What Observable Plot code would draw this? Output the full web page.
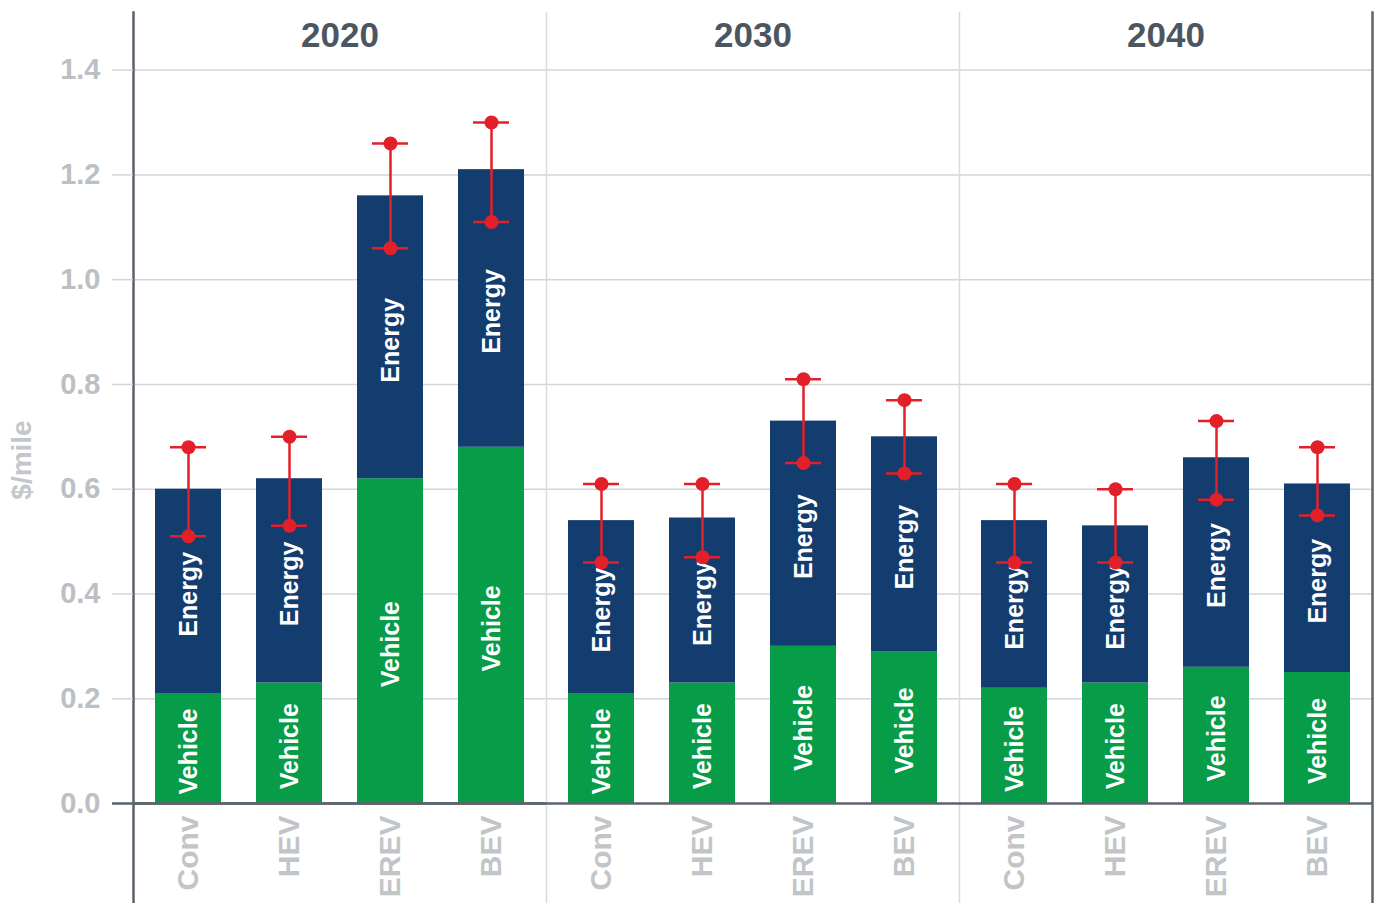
<!DOCTYPE html>
<html>
<head>
<meta charset="utf-8">
<script src="https://cdn.jsdelivr.net/npm/d3@7"></script>
<script src="https://cdn.jsdelivr.net/npm/@observablehq/plot@0.6"></script>
<style>
  html, body { margin: 0; padding: 0; background: #fff; }
  #chart { width: 1377px; height: 903px; }
</style>
</head>
<body>
<div id="chart"></div>
<script>
const types = ["Conv", "HEV", "EREV", "BEV"];
const years = ["2020", "2030", "2040"];
const parts = ["Vehicle", "Energy"];
// $/mile, per year, in order of types
const vehicleCost = [
  [0.21, 0.23, 0.62, 0.68],
  [0.21, 0.23, 0.30, 0.29],
  [0.22, 0.23, 0.26, 0.25]
];
const energyCost = [
  [0.39, 0.39, 0.54, 0.53],
  [0.33, 0.315, 0.43, 0.41],
  [0.32, 0.30, 0.40, 0.36]
];
const rangeLow = [
  [0.51, 0.53, 1.06, 1.11],
  [0.46, 0.47, 0.65, 0.63],
  [0.46, 0.46, 0.58, 0.55]
];
const rangeHigh = [
  [0.68, 0.70, 1.26, 1.30],
  [0.61, 0.61, 0.81, 0.77],
  [0.61, 0.60, 0.73, 0.68]
];
const yTicks = [0, 0.2, 0.4, 0.6, 0.8, 1.0, 1.2, 1.4];

const rows = [];
years.forEach((yr, i) => types.forEach((t, j) => rows.push({year: yr, type: t, part: "Vehicle", value: vehicleCost[i][j]})));
years.forEach((yr, i) => types.forEach((t, j) => rows.push({year: yr, type: t, part: "Energy", value: energyCost[i][j]})));
const ranges = [];
years.forEach((yr, i) => types.forEach((t, j) => ranges.push({year: yr, type: t, lo: rangeLow[i][j], hi: rangeHigh[i][j]})));

const RED = "#e3202a";
const DARK = "#5b636b";
const GRID = "#d3d5d8";

const chart = Plot.plot({
  width: 1377,
  height: 903,
  marginLeft: 133,
  marginRight: 5,
  marginTop: 12,
  marginBottom: 100,
  style: {fontFamily: "'Liberation Sans', Arial, Helvetica, sans-serif", background: "#fff", overflow: "visible"},
  fx: {domain: years, padding: 0, axis: null},
  x: {domain: types, paddingInner: 0.35, paddingOuter: 0.21},
  y: {domain: [0, 1.51]},
  color: {domain: parts, range: ["#079c48", "#133c6f"]},
  marks: [
    Plot.gridY({ticks: yTicks.slice(1), stroke: GRID, strokeOpacity: 1, strokeWidth: 1.5}),
    Plot.frame({anchor: "left", stroke: "#d8dadc", strokeWidth: 1.5, insetBottom: -100}),
    Plot.frame({anchor: "left", stroke: DARK, strokeWidth: 2.5, insetBottom: -100, facetAnchor: "left"}),
    Plot.frame({anchor: "right", stroke: DARK, strokeWidth: 2.5, insetBottom: -100, facetAnchor: "right"}),
    Plot.axisY({ticks: yTicks, tickFormat: d3.format(".1f"), tickSize: 21, tickPadding: 12,
      fontSize: 29, fontWeight: "bold", fill: "#bcc0c4", stroke: GRID, strokeWidth: 1.5, label: null}),
    Plot.axisX({tickRotate: -90, tickSize: 0, tickPadding: 12, fontSize: 30, fontWeight: "bold",
      fill: "#c2c5c8", label: null}),
    Plot.barY(rows, {fx: "year", x: "type", y: "value", fill: "part", z: "part"}),
    Plot.text(rows, Plot.stackY({fx: "year", x: "type", y: "value", z: "part", text: "part",
      rotate: -90, fill: "white", fontSize: 25, fontWeight: "bold", dy: 3})),
    Plot.ruleY([0], {stroke: DARK, strokeWidth: 2.5}),
    Plot.ruleY([0], {stroke: DARK, strokeWidth: 2.5, insetLeft: -21, facetAnchor: "left"}),
    Plot.ruleX(ranges, {fx: "year", x: "type", y1: "lo", y2: "hi", stroke: RED, strokeWidth: 2.5}),
    Plot.tickY(ranges, {fx: "year", x: "type", y: "lo", stroke: RED, strokeWidth: 2.5, insetLeft: 15, insetRight: 15}),
    Plot.tickY(ranges, {fx: "year", x: "type", y: "hi", stroke: RED, strokeWidth: 2.5, insetLeft: 15, insetRight: 15}),
    Plot.dot(ranges, {fx: "year", x: "type", y: "lo", r: 7, fill: RED}),
    Plot.dot(ranges, {fx: "year", x: "type", y: "hi", r: 7, fill: RED}),
    Plot.text(years, {fx: d => d, text: d => d, frameAnchor: "top", dy: 10, fontSize: 35,
      fontWeight: "bold", fill: "#4b5661"}),
    Plot.text(["$/mile"], {frameAnchor: "left", textAnchor: "middle", dx: -111, dy: 52, rotate: -90, fontSize: 28,
      fontWeight: "bold", fill: "#c4c7ca", facetAnchor: "left"})
  ]
});
document.getElementById("chart").appendChild(chart);
</script>
</body>
</html>
